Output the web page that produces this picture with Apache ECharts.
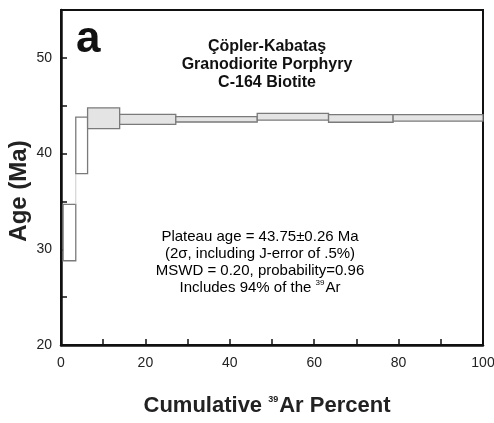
<!DOCTYPE html>
<html><head><meta charset="utf-8">
<script src="https://cdn.jsdelivr.net/npm/echarts@6/dist/echarts.min.js"></script>
<style>html,body{margin:0;padding:0;background:#fff}#c{width:494px;height:423px}</style>
</head><body><div id="c"></div>
<script>
// cumulative 39Ar percent boundaries of heating steps
var stepStart = [0.5, 3.5, 6.3, 13.9, 27.2, 46.5, 63.4, 78.7];
var stepEnd   = [3.5, 6.3, 13.9, 27.2, 46.5, 63.4, 78.7, 100];
// apparent age limits (Ma), 2 sigma box
var ageLow  = [28.8, 37.9, 42.6, 43.06, 43.3, 43.5, 43.27, 43.4];
var ageHigh = [34.7, 43.8, 44.77, 44.1, 43.85, 44.2, 44.06, 44.06];
// 1 = included in plateau
var inPlateau = [0, 0, 1, 1, 1, 1, 1, 1];
var xTicks = [0, 20, 40, 60, 80, 100];
var yTicks = [20, 30, 40, 50];

var data = stepStart.map(function (s, i) {
  return [s, stepEnd[i], ageLow[i], ageHigh[i], inPlateau[i]];
});

var chart = echarts.init(document.getElementById('c'));
var font = '"Liberation Sans", Arial, Helvetica, sans-serif';
chart.setOption({
  animation: false,
  backgroundColor: '#fff',
  grid: { left: 61, top: 10, right: 11, bottom: 78, containLabel: false, outerBoundsMode: 'none',
    show: true, borderColor: '#111', borderWidth: 2, backgroundColor: 'transparent' },
  xAxis: {
    type: 'value', min: 0, max: 100, interval: 20,
    axisLine: { lineStyle: { color: '#111', width: 2.5 } },
    axisTick: { inside: true, length: 6, lineStyle: { color: '#111', width: 1.5 } },
    minorTick: { show: true, splitNumber: 2, length: 6, lineStyle: { color: '#111', width: 1.5 } },
    splitLine: { show: false },
    axisLabel: { color: '#222', fontSize: 14, fontFamily: font, margin: 11,
      formatter: function (v) { return xTicks.indexOf(v) >= 0 ? String(v) : ''; } },
    name: '{b|Cumulative }{s|39}{b|Ar Percent}',
    nameLocation: 'middle', nameGap: 50,
    nameTextStyle: { padding: [0, 10, 0, 0], rich: {
      b: { fontSize: 22, fontWeight: 'bold', fontFamily: font, color: '#222' },
      s: { fontSize: 9, fontWeight: 'bold', fontFamily: font, color: '#222', verticalAlign: 'top', padding: [0, 1, 12, 0] }
    } }
  },
  yAxis: {
    type: 'value', min: 20, max: 55, interval: 10,
    axisLine: { lineStyle: { color: '#111', width: 2.5 } },
    axisTick: { inside: true, length: 6, lineStyle: { color: '#111', width: 1.5 } },
    minorTick: { show: true, splitNumber: 2, length: 6, lineStyle: { color: '#111', width: 1.5 } },
    splitLine: { show: false },
    axisLabel: { color: '#222', fontSize: 14, fontFamily: font, margin: 9,
      formatter: function (v) { return yTicks.indexOf(v) >= 0 ? String(v) : ''; } }
  },
  series: [{
    type: 'custom',
    data: data,
    encode: { x: [0, 1], y: [2, 3] },
    renderItem: function (params, api) {
      var x0 = api.value(0), x1 = api.value(1), lo = api.value(2), hi = api.value(3), pl = api.value(4);
      var p0 = api.coord([x0, hi]);
      var p1 = api.coord([x1, lo]);
      var children = [];
      var i = params.dataIndex;
      if (i > 0) {
        var pHi = ageHigh[i - 1];
        if (pHi < lo) {
          var c0 = api.coord([x0, pHi]), c1 = api.coord([x0, lo]);
          children.push({ type: 'line', shape: { x1: c0[0], y1: c0[1], x2: c1[0], y2: c1[1] }, style: { stroke: '#ccc', lineWidth: 1 } });
        }
      }
      children.push({
        type: 'rect',
        shape: { x: p0[0], y: p0[1], width: p1[0] - p0[0], height: p1[1] - p0[1] },
        style: { fill: pl ? '#e4e4e4' : '#ffffff', stroke: '#7a7a7a', lineWidth: 1.3 }
      });
      return { type: 'group', children: children };
    }
  }],
  graphic: [
    { type: 'text', x: 19, y: 191, rotation: Math.PI / 2, style: { text: 'Age (Ma)', textAlign: 'center', textVerticalAlign: 'middle', font: 'bold 24px ' + font, fill: '#222' } },
    { type: 'text', x: 76, y: 18, style: { text: 'a', font: 'bold 44px ' + font, fill: '#111' } },
    { type: 'text', x: 267, y: 38, style: { text: 'Çöpler-Kabataş\nGranodiorite Porphyry\nC-164 Biotite', textAlign: 'center', textVerticalAlign: 'top', font: 'bold 16px ' + font, lineHeight: 18, fill: '#111' } },
    { type: 'text', x: 260, y: 228, style: {
      text: '{t|Plateau age = 43.75±0.26 Ma}\n{t|(2σ, including J-error of .5%)}\n{t|MSWD = 0.20, probability=0.96}\n{t|Includes 94% of the }{s|39}{t|Ar}',
      textAlign: 'center',
      rich: {
        t: { fontSize: 15, fontFamily: font, color: '#111', lineHeight: 17 },
        s: { fontSize: 8, fontFamily: font, color: '#111', verticalAlign: 'top', lineHeight: 17, padding: [0, 1, 7, 0] }
      }
    } }
  ]
});
</script></body></html>
